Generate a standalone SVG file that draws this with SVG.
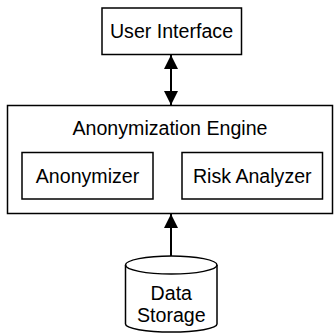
<svg xmlns="http://www.w3.org/2000/svg" width="334" height="335" viewBox="0 0 334 335">
<defs>
<style>
.box{fill:#fff;stroke:#000;stroke-width:1.5}
.lbl{font-family:"Liberation Sans",Arial,sans-serif;font-size:19.6px;fill:#000;text-anchor:middle}
.conn{stroke:#000;stroke-width:2;fill:none}
</style>
<marker id="ah" viewBox="0 0 14 14" refX="14" refY="7" markerWidth="14" markerHeight="14" markerUnits="userSpaceOnUse" orient="auto-start-reverse">
<path d="M0,0 L14,7 L0,14 Z" fill="#000"/>
</marker>
</defs>
<rect width="334" height="335" fill="#fff"/>
<g id="ui">
<rect class="box" x="102" y="8" width="139.5" height="46.5"/>
<text class="lbl" x="171.5" y="37.5">User Interface</text>
</g>
<g id="engine">
<rect class="box" x="7.5" y="105.5" width="325" height="108"/>
<text class="lbl" x="170" y="135">Anonymization Engine</text>
</g>
<g id="anonymizer">
<rect class="box" x="22" y="152.5" width="131" height="46.5"/>
<text class="lbl" x="87.5" y="183">Anonymizer</text>
</g>
<g id="risk">
<rect class="box" x="182" y="152.5" width="140.5" height="46.5"/>
<text class="lbl" x="252.3" y="183">Risk Analyzer</text>
</g>
<g id="storage">
<path class="box" d="M125.5,265 A45.75,9 0 0 1 217,265 L217,324 A45.75,8 0 0 1 125.5,324 Z"/>
<path class="conn" style="stroke-width:1.5" d="M125.5,265 A45.75,9 0 0 0 217,265"/>
<text class="lbl" x="171.3" y="300">Data</text>
<text class="lbl" x="171.3" y="322">Storage</text>
</g>
<g id="connectors">
<line class="conn" x1="171" y1="55" x2="171" y2="105" marker-start="url(#ah)" marker-end="url(#ah)"/>
<line class="conn" x1="171" y1="256" x2="171" y2="214" marker-end="url(#ah)"/>
</g>
</svg>
